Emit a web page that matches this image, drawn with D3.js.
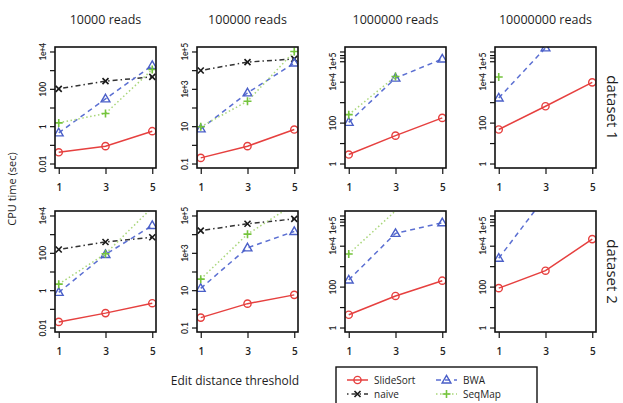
<!DOCTYPE html>
<html>
<head>
  <meta charset="utf-8">
  <style>
    body {
      margin: 0;
      background: #fff;
      font-family: "Open Sans", sans-serif;
    }
    text { fill: #1e1e1e; }
  </style>
</head>
<body>
  <svg id="chart" width="623" height="403"></svg>
  <script src="https://d3js.org/d3.v7.min.js"></script>
  <script>

    // DATA
    var readCounts = ['10000 reads', '100000 reads', '1000000 reads', '10000000 reads'];
    var datasets = ['dataset 1', 'dataset 2'];
    var thresholds = [1, 3, 5];
    var methods = ['SlideSort', 'naive', 'BWA', 'SeqMap'];

    // cpu time (sec), [dataset][reads][threshold]; null = not shown
    var slideSort = [
      [[0.04, 0.085, 0.54], [0.2, 0.85, 6.6], [2.75, 23, 170], [46, 630, 9300]],
      [[0.02, 0.059, 0.2], [0.34, 1.9, 5.6], [4.2, 35, 195], [84, 600, 21000]]
    ];
    var naive = [
      [[100, 257, 440], [9600, 27000, 40000], [null, null, null], [null, null, null]],
      [[150, 380, 680], [15500, 36000, 66000], [null, null, null], [null, null, null]]
    ];
    var bwa = [
      [[0.44, 29, 1780], [7.2, 610, 24000], [103, 15000, 128000], [1600, 450000, null]],
      [[0.76, 82, 2900], [12.5, 1850, 14000], [212, 40000, 132000], [2430, 2500000, null]]
    ];
    var seqMap = [
      [[1.5, 4.8, 1080], [9.3, 218, 100000], [245, 18000, null], [17000, null, null]],
      [[2.1, 89, 27000], [39, 10000, 400000], [3960, 500000, null], [null, null, null]]
    ];

    // y limits and ticks per reads column
    var yLimits = [[0.01, 1e4], [0.1, 1e5], [1, 3e5], [1, 3e5]];
    var yLabelTicks = [[0.01, 1, 100, 1e4], [0.1, 10, 1e3, 1e5], [1, 100, 1e4, 1e5], [1, 100, 1e4, 1e5]];
    var yMinorTicks = [[0.1, 10, 1e3], [1, 100, 1e4], [10, 1e3, 1.5e5, 2e5, 3e5], [10, 1e3, 1.5e5, 2e5, 3e5]];

    // STYLE
    var seriesValues = {
      SlideSort: slideSort,
      naive: naive,
      BWA: bwa,
      SeqMap: seqMap
    };

    var styles = {
      SlideSort: { color: '#e6403f', line: '#e6403f', dash: null, marker: 'circle' },
      naive: { color: '#1a1a1a', line: '#333', dash: '1.5,3,5,3', marker: 'cross' },
      BWA: { color: '#4a5fc8', line: '#5b6fd2', dash: '5,4', marker: 'triangle' },
      SeqMap: { color: '#74c43c', line: '#a9d67a', dash: '1.5,2.5', marker: 'plus' }
    };

    var panelLeft = [55, 197, 345, 495];
    var panelTop = [47, 211];
    var panelW = 101;
    var panelH = 121;

    var svg = d3.select('#chart');

    function pad(lo, hi, f) {
      var d = hi - lo;
      return [lo - d * f, hi + d * f];
    }

    function fmt(v) {
      if (v >= 1000) {
        return '1e+' + Math.round(Math.log10(v));
      }
      return String(v);
    }

    function drawMarker(g, type, st) {
      if (type === 'circle') {
        g.append('circle').attr('r', 3.6)
          .style('fill', 'none').style('stroke', st.color).style('stroke-width', 1.4);
      } else if (type === 'triangle') {
        g.append('path').attr('d', 'M0,-4.6L4.4,3L-4.4,3Z')
          .style('fill', 'none').style('stroke', st.color).style('stroke-width', 1.4);
      } else if (type === 'cross') {
        g.append('path').attr('d', 'M-3,-3L3,3M-3,3L3,-3')
          .style('stroke', st.color).style('stroke-width', 1.6);
      } else {
        g.append('path').attr('d', 'M-4,0L4,0M0,-4L0,4')
          .style('stroke', st.color).style('stroke-width', 1.6);
      }
    }

    datasets.forEach(function(ds, r) {
      readCounts.forEach(function(rc, c) {

        var x0 = panelLeft[c];
        var y0 = panelTop[r];

        var x = d3.scaleLinear()
          .domain(pad(1, 5, 0.04))
          .range([0, panelW]);

        var ly = yLimits[c].map(Math.log10);
        var y = d3.scaleLog()
          .domain(pad(ly[0], ly[1], 0.04).map(function(v) { return Math.pow(10, v); }))
          .range([panelH, 0]);

        var g = svg.append('g')
          .attr('transform', 'translate(' + x0 + ',' + y0 + ')');

        var clipId = 'clip-' + r + '-' + c;
        g.append('clipPath').attr('id', clipId)
          .append('rect').attr('width', panelW).attr('height', panelH);

        // axes
        var yAxis = d3.axisLeft(y)
          .tickValues(yLabelTicks[c].concat(yMinorTicks[c]))
          .tickFormat(function(v) { return yLabelTicks[c].indexOf(v) >= 0 ? fmt(v) : ''; })
          .tickSize(5);

        var yg = g.append('g').call(yAxis);
        yg.select('.domain').remove();
        yg.selectAll('line').style('stroke', '#111').style('stroke-width', 1.2);
        yg.selectAll('text')
          .attr('x', 0).attr('dy', null).attr('y', -9.5)
          .attr('transform', 'rotate(-90)')
          .style('text-anchor', 'middle')
          .style('font-family', 'Lato, sans-serif')
          .style('font-size', '8.5px')
          .style('font-weight', 600)
          .style('letter-spacing', function(v) { return v >= 1000 ? '-0.6px' : null; })
          .style('fill', '#222');

        var xAxis = d3.axisBottom(x)
          .tickValues(thresholds)
          .tickFormat(d3.format('d'))
          .tickSize(6);

        var xg = g.append('g')
          .attr('transform', 'translate(0,' + panelH + ')')
          .call(xAxis);
        xg.select('.domain').remove();
        xg.selectAll('line').style('stroke', '#111').style('stroke-width', 1.2);
        xg.selectAll('text')
          .attr('y', 16)
          .style('font-family', '"Open Sans", sans-serif')
          .style('font-size', '10px')
          .style('font-weight', 600)
          .style('fill', '#222');

        // series
        var plot = g.append('g').attr('clip-path', 'url(#' + clipId + ')');

        methods.forEach(function(m) {
          var st = styles[m];
          var vals = seriesValues[m][r][c];
          var pts = thresholds.map(function(t, i) { return { t: t, v: vals[i] }; });

          var line = d3.line()
            .defined(function(d) { return d.v != null; })
            .x(function(d) { return x(d.t); })
            .y(function(d) { return y(d.v); });

          plot.append('path')
            .datum(pts)
            .attr('d', line)
            .style('fill', 'none')
            .style('stroke', st.line)
            .style('stroke-width', 1.5)
            .style('stroke-dasharray', st.dash);

          pts.forEach(function(d) {
            if (d.v == null) return;
            var py = y(d.v);
            if (py < 0 || py > panelH) return;
            var mg = plot.append('g')
              .attr('transform', 'translate(' + x(d.t) + ',' + py + ')');
            drawMarker(mg, st.marker, st);
          });
        });

        g.append('rect')
          .attr('width', panelW).attr('height', panelH)
          .style('fill', 'none').style('stroke', '#111').style('stroke-width', 1.6);

        if (r === 0) {
          svg.append('text')
            .attr('x', x0 + panelW / 2).attr('y', 24)
            .style('text-anchor', 'middle')
            .style('font-size', '12.5px')
            .text(rc);
        }

        if (c === readCounts.length - 1) {
          svg.append('text')
            .attr('transform', 'translate(607,' + (y0 + panelH / 2) + ') rotate(90)')
            .style('text-anchor', 'middle')
            .style('font-size', '15px')
            .text(ds);
        }
      });
    });

    svg.append('text')
      .attr('transform', 'translate(16,189) rotate(-90)')
      .style('text-anchor', 'middle')
      .style('font-size', '11px')
      .text('CPU time (sec)');

    svg.append('text')
      .attr('x', 235).attr('y', 385)
      .style('text-anchor', 'middle')
      .style('font-size', '12px')
      .text('Edit distance threshold');

    // LEGEND
    var legend = svg.append('g').attr('transform', 'translate(336,367)');
    legend.append('rect')
      .attr('width', 201).attr('height', 44)
      .style('fill', '#fff').style('stroke', '#111').style('stroke-width', 1.4);

    var legendOrder = ['SlideSort', 'BWA', 'naive', 'SeqMap'];
    legendOrder.forEach(function(m, i) {
      var st = styles[m];
      var item = legend.append('g')
        .attr('transform', 'translate(' + (i % 2 ? 100 : 11) + ',' + (i < 2 ? 13 : 27) + ')');
      item.append('line')
        .attr('x1', 0).attr('x2', 21)
        .style('stroke', st.line).style('stroke-width', 1.5)
        .style('stroke-dasharray', st.dash);
      drawMarker(item.append('g').attr('transform', 'translate(10.5,0)'), st.marker, st);
      item.append('text')
        .attr('x', 27).attr('dy', '0.35em')
        .style('font-size', '10px')
        .text(m);
    });

  </script>
</body>
</html>
